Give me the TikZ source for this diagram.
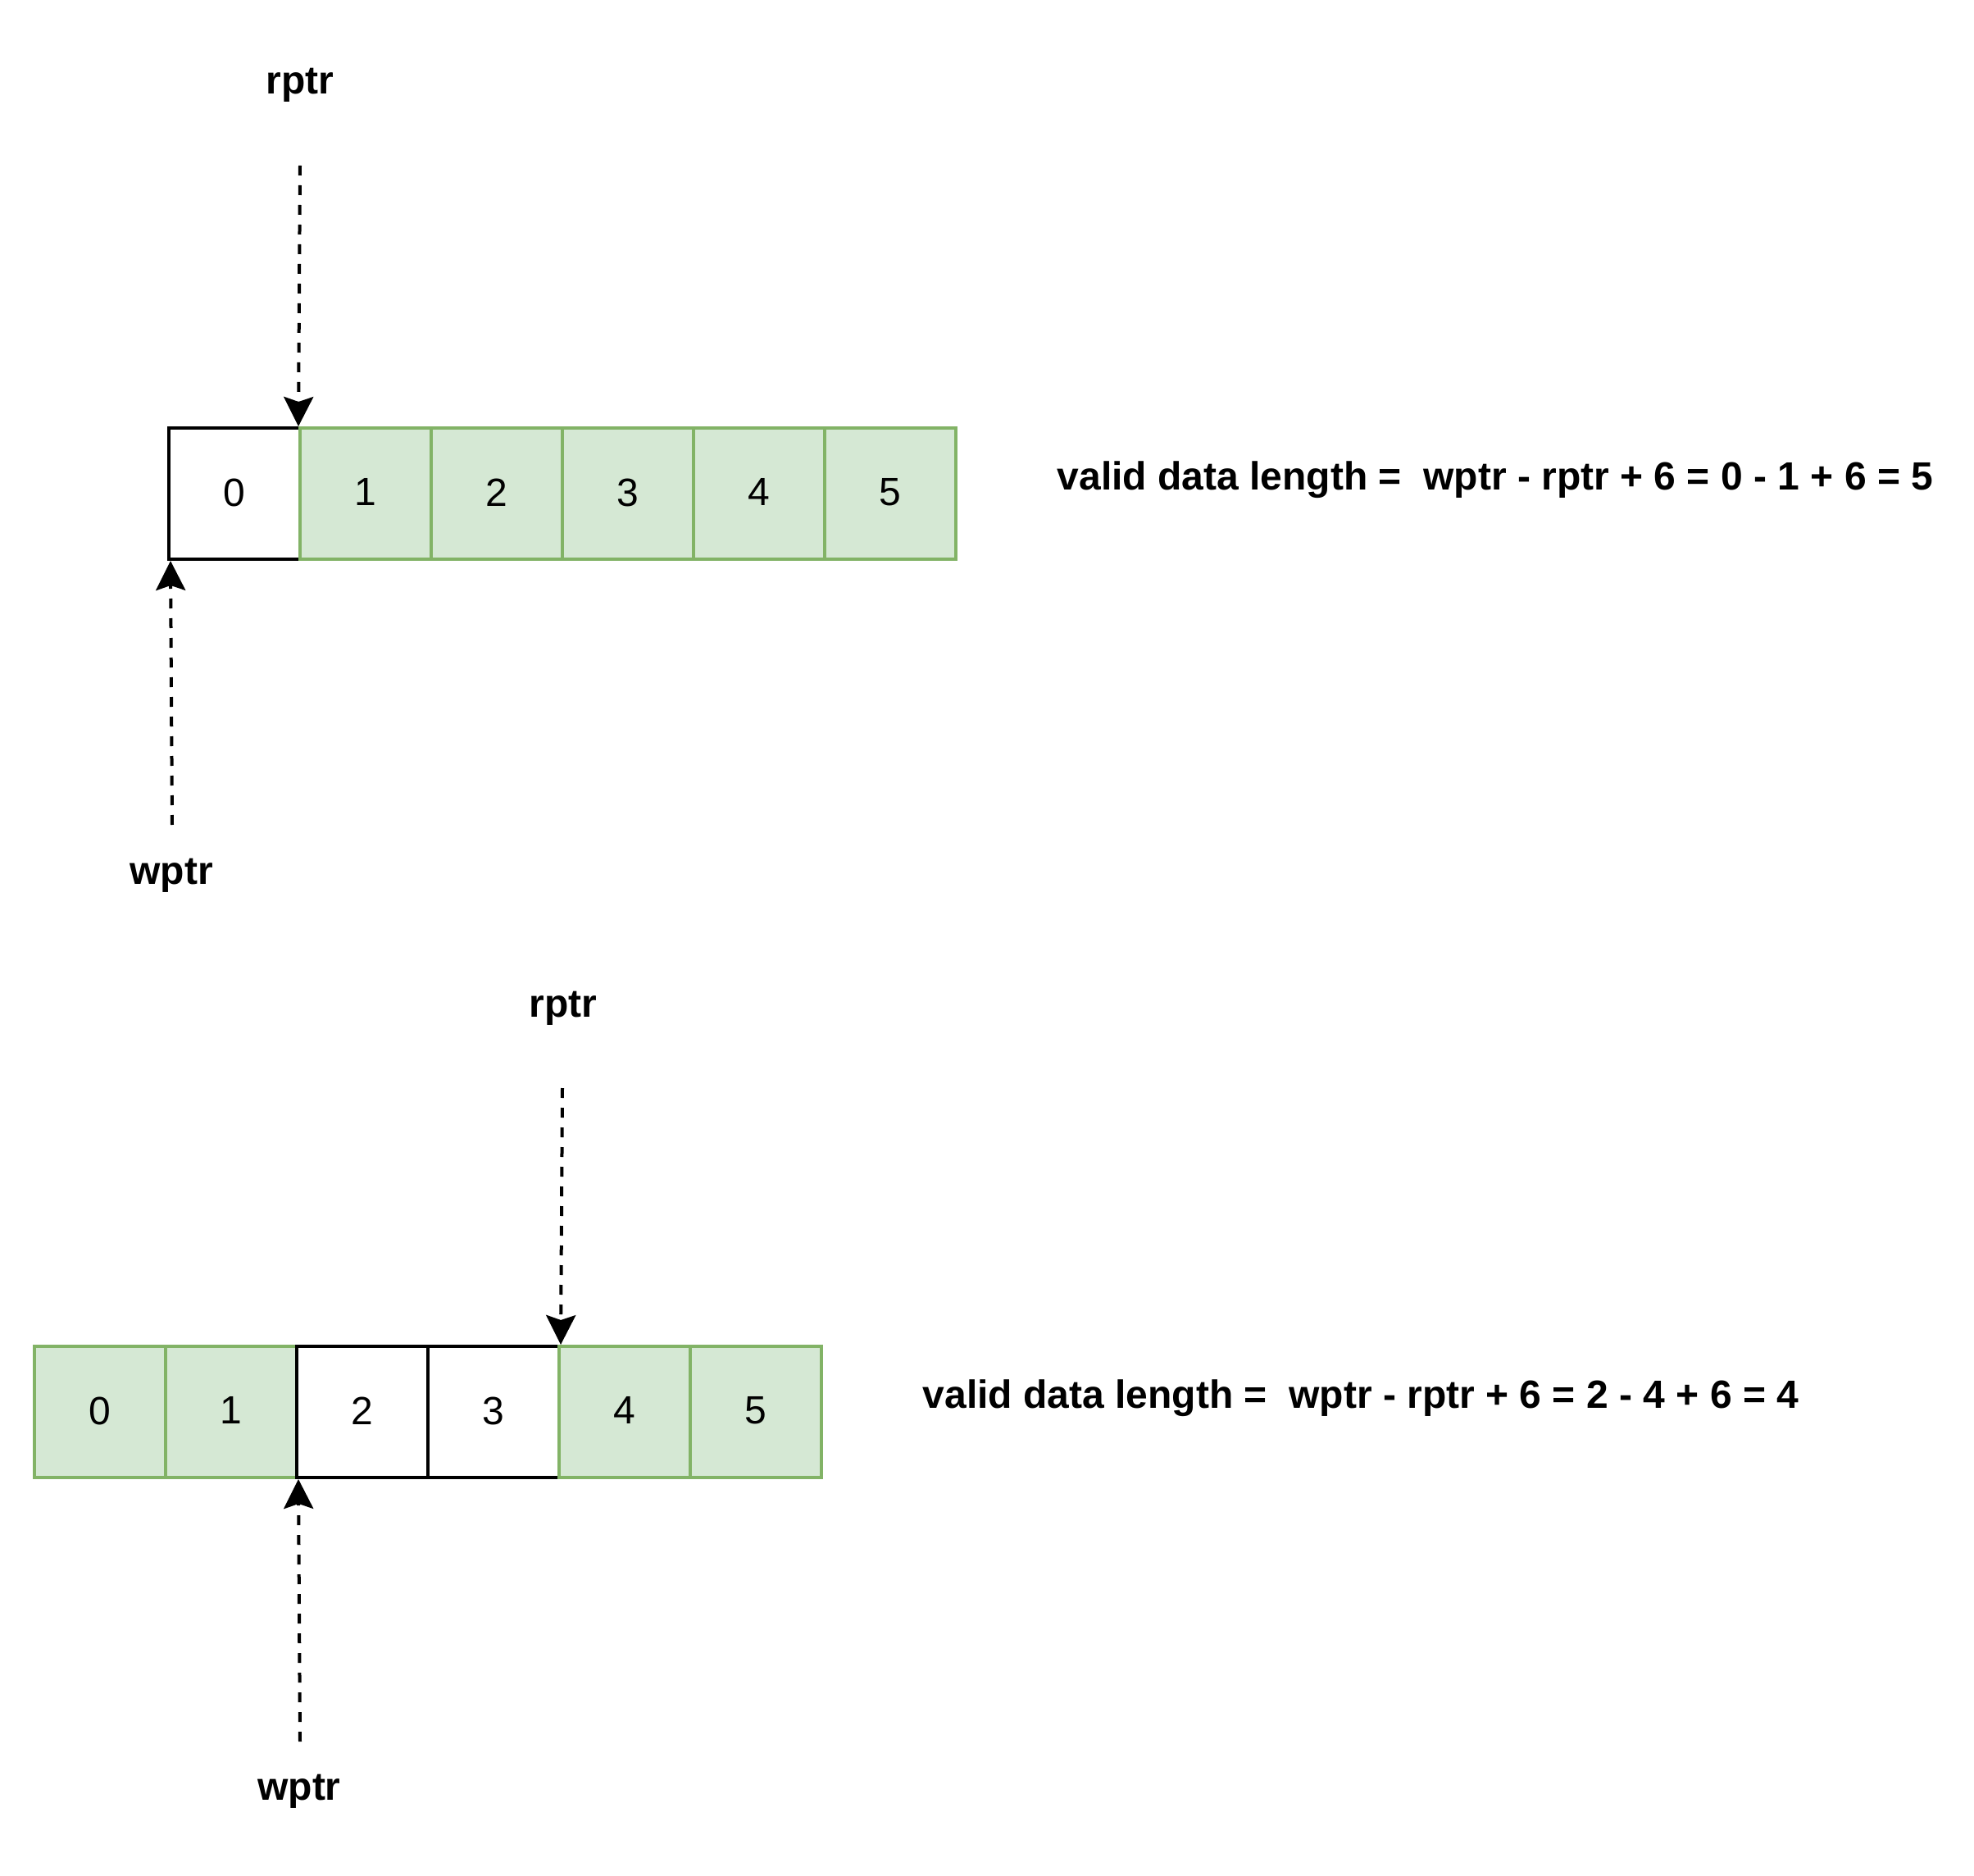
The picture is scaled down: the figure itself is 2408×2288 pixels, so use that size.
\documentclass[tikz,border=0pt]{standalone}
\usepackage{fontspec}
\setmainfont{Liberation Sans}
\usetikzlibrary{arrows.meta}
\definecolor{gfill}{HTML}{D5E8D4}
\definecolor{gline}{HTML}{82B366}
\begin{document}
\begin{tikzpicture}[x=0.25pt,y=-0.25pt,
  cellbase/.style={rectangle,minimum size=40pt,inner sep=0pt,line width=1pt,font=\fontsize{12}{14}\selectfont,text depth=0.8pt},
  cellg/.style={cellbase,draw=gline,fill=gfill},
  cellw/.style={cellbase,draw=black,fill=white},
  lbl/.style={anchor=base,inner sep=0pt,font=\fontsize{12}{14}\selectfont\bfseries},
  formula/.style={anchor=base west,inner sep=0pt,font=\fontsize{12}{14}\selectfont\bfseries},
  ptr/.style={line width=1pt,dash pattern=on 3pt off 3pt,-{Stealth[length=9pt,width=9pt,inset=1.5pt]}}]
\useasboundingbox (0,0) rectangle (2408,2288);
% top row
\node[cellw] (t0) at (286,602) {0};
\node[cellg] (t1) at (446,602) {1};
\node[cellg] (t2) at (606,602) {2};
\node[cellg] (t3) at (766,602) {3};
\node[cellg] (t4) at (926,602) {4};
\node[cellg] (t5) at (1086,602) {5};
\node[lbl] (rp1) at (366,115) {rptr};
\node[lbl] (wp1) at (209,1078) {wptr};
\coordinate (rt1) at (366,202);
\coordinate (wt1) at (210,1006);
\draw[ptr] (rt1) -- (t1.north west);
\draw[ptr] (wt1) -- ([xshift=1pt]t0.south west);
\node[formula] (f1) at (1289,598) {valid data length = \ wptr - rptr + 6 = 0 - 1 + 6 = 5};
% bottom row
\node[cellg] (b0) at (122,1722) {0};
\node[cellg] (b1) at (282,1722) {1};
\node[cellw] (b2) at (442,1722) {2};
\node[cellw] (b3) at (602,1722) {3};
\node[cellg] (b4) at (762,1722) {4};
\node[cellg] (b5) at (922,1722) {5};
\node[lbl] (rp2) at (687,1240) {rptr};
\node[lbl] (wp2) at (365,2195) {wptr};
\coordinate (rt2) at (686,1327);
\coordinate (wt2) at (366,2124);
\draw[ptr] (rt2) -- ([xshift=1pt]b4.north west);
\draw[ptr] (wt2) -- ([xshift=1pt]b2.south west);
\node[formula] (f2) at (1125,1717) {valid data length = \ wptr - rptr + 6 = 2 - 4 + 6 = 4};
\end{tikzpicture}
\end{document}
